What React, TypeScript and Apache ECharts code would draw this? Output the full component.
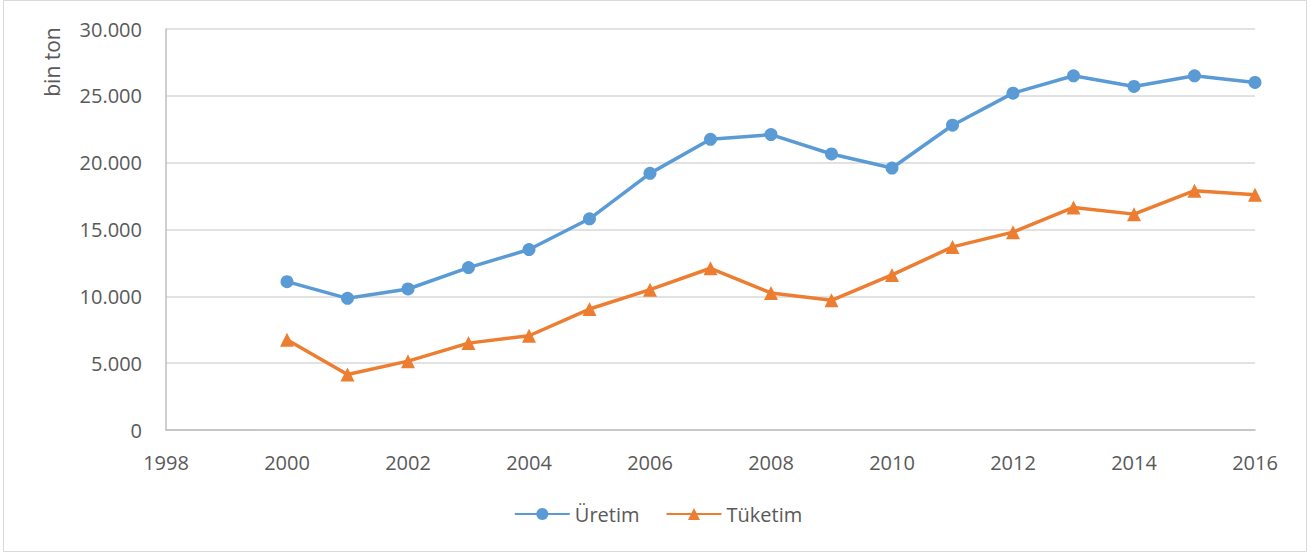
import React, { useEffect, useRef } from "react";
import * as echarts from "echarts";

const years = [2000, 2001, 2002, 2003, 2004, 2005, 2006, 2007, 2008, 2009, 2010, 2011, 2012, 2013, 2014, 2015, 2016];
const uretim = [11100, 9850, 10550, 12150, 13500, 15800, 19200, 21750, 22100, 20650, 19600, 22800, 25200, 26500, 25700, 26500, 26000];
const tuketim = [6750, 4150, 5150, 6500, 7050, 9050, 10500, 12100, 10250, 9700, 11600, 13700, 14800, 16650, 16150, 17900, 17600];
const seriesNames = ["Üretim", "Tüketim"];
const yAxisName = "bin ton";

const FONT = "'Open Sans', sans-serif";

export default function App() {
  const ref = useRef<HTMLDivElement>(null);
  useEffect(() => {
    document.body.style.margin = "0";
    const chart = echarts.init(ref.current!, null, { renderer: "svg" });
    chart.setOption({
      animation: false,
      backgroundColor: "#ffffff",
      textStyle: { fontFamily: FONT },
      graphic: [
        {
          type: "rect",
          shape: { x: 3.5, y: 0.5, width: 1303, height: 551 },
          style: { fill: "none", stroke: "#d9d9d9", lineWidth: 1 },
          silent: true,
        },
        {
          type: "text",
          x: 52,
          y: 62,
          rotation: Math.PI / 2,
          style: {
            text: yAxisName,
            fill: "#595959",
            font: `21px ${FONT}`,
            textAlign: "center",
            textVerticalAlign: "middle",
          },
        },
      ],
      grid: { left: 166, right: 1316 - 1255, top: 29, bottom: 553 - 430 },
      legend: {
        top: 499,
        left: "center",
        itemWidth: 55,
        itemHeight: 15,
        itemGap: 26,
        textStyle: { color: "#595959", fontSize: 20, fontFamily: FONT },
        data: seriesNames,
      },
      xAxis: {
        type: "value",
        min: 1998,
        max: 2016,
        interval: 2,
        axisLine: { lineStyle: { color: "#bfbfbf", width: 1.5 } },
        axisTick: { show: false },
        splitLine: { show: false },
        axisLabel: {
          color: "#595959",
          fontSize: 20,
          margin: 22,
          fontFamily: FONT,
          formatter: (v: number) => String(v),
        },
      },
      yAxis: {
        type: "value",
        min: 0,
        max: 30000,
        interval: 5000,
        axisLine: { show: true, lineStyle: { color: "#bfbfbf", width: 1.5 } },
        axisTick: { show: false },
        splitLine: { lineStyle: { color: "#d9d9d9", width: 1.5 } },
        axisLabel: {
          color: "#595959",
          fontSize: 20,
          margin: 24,
          fontFamily: FONT,
          formatter: (v: number) => (v === 0 ? "0" : v.toLocaleString("de-DE")),
        },
      },
      series: [
        {
          name: seriesNames[0],
          type: "line",
          data: years.map((y, i) => [y, uretim[i]]),
          symbol: "circle",
          symbolSize: 13,
          lineStyle: { color: "#5b9bd5", width: 3.5 },
          itemStyle: { color: "#5b9bd5" },
        },
        {
          name: seriesNames[1],
          type: "line",
          data: years.map((y, i) => [y, tuketim[i]]),
          symbol: "triangle",
          symbolSize: 14,
          lineStyle: { color: "#ed7d31", width: 3.5 },
          itemStyle: { color: "#ed7d31" },
        },
      ],
    });
    return () => chart.dispose();
  }, []);
  return <div ref={ref} style={{ width: 1316, height: 553, position: "absolute", left: 0, top: 0 }} />;
}
